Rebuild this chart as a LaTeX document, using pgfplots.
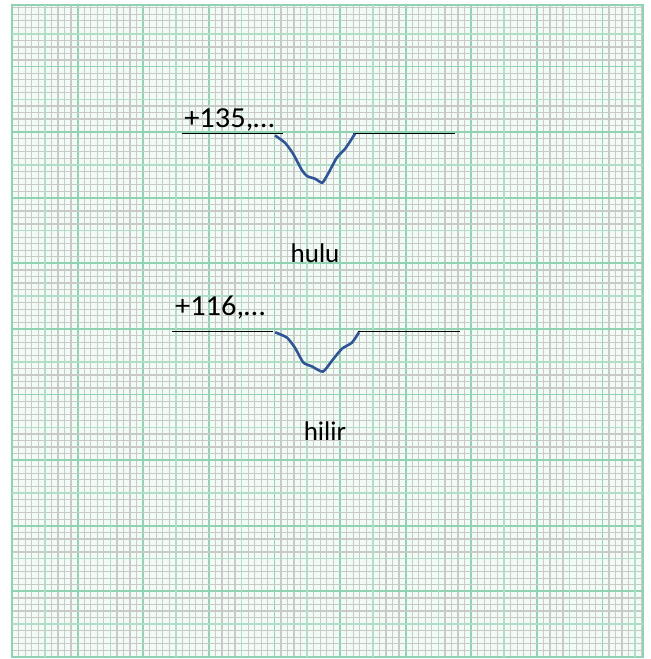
\documentclass[border=0pt]{standalone}
\usepackage{pgfplots}
\pgfplotsset{compat=1.18}
\usepackage{graphicx}
\usepackage{fontspec}
\setmainfont{Carlito}
\definecolor{minorg}{RGB}{200,202,200}
\definecolor{medg}{RGB}{178,222,200}
\definecolor{majg}{RGB}{145,210,178}
\definecolor{paper}{RGB}{243,251,247}
\definecolor{curve}{RGB}{47,85,151}
\begin{document}
\begin{tikzpicture}
\path[use as bounding box] (-6pt,-1pt) rectangle (319pt,328.5pt);
\begin{axis}[
  anchor=origin, at={(0,0)},
  x=3.28pt, y=3.28pt,
  xmin=0, xmax=96.2, ymin=0, ymax=99.4,
  axis background/.style={fill=paper},
  axis line style={majg, line width=1.2pt},
  xtick={0,10,...,90}, ytick={0,10,...,90},
  minor xtick={0,1,...,96}, minor ytick={0,1,...,99},
  extra x ticks={5,15,...,95}, extra y ticks={5,15,...,95},
  extra tick style={grid=major, major grid style={medg, line width=0.8pt}},
  xticklabels={}, yticklabels={},
  extra x tick labels={}, extra y tick labels={},
  major tick length=0pt, minor tick length=0pt,
  grid=both,
  minor grid style={minorg, line width=0.6pt},
  major grid style={majg, line width=0.9pt},
  clip=false,
]
% upstream (hulu)
\addplot[black, line width=0.8pt] coordinates {(25.9,79.8) (41.3,79.8)};
\addplot[black, line width=0.8pt] coordinates {(52.0,79.8) (67.5,79.8)};
\addplot[curve, line width=1.3pt, smooth, tension=0.35] coordinates {
  (40.1,79.5) (41.6,78.4) (42.8,76.8) (44.2,74.2) (45.0,73.3) (46.2,72.9)
  (47.3,72.3) (48.2,73.7) (49.5,76.1) (50.8,77.5) (51.8,79.0) (52.3,79.8)};
% downstream (hilir)
\addplot[black, line width=0.8pt] coordinates {(24.4,49.6) (39.8,49.6)};
\addplot[black, line width=0.8pt] coordinates {(52.7,49.6) (68.3,49.6)};
\addplot[curve, line width=1.3pt, smooth, tension=0.35] coordinates {
  (40.1,49.5) (41.9,48.7) (43.1,47.2) (44.4,44.9) (45.7,44.3) (47.4,43.5)
  (48.8,45.2) (50.3,47.0) (51.8,47.9) (52.9,49.5)};
\node[anchor=base west, inner sep=0pt, font=\fontsize{14.5}{16}\selectfont] at (axis cs:26.2,80.7) {\scalebox{1.05}[1]{+135,…}};
\node[anchor=base west, inner sep=0pt, font=\fontsize{14.5}{16}\selectfont] at (axis cs:24.8,52.1) {\scalebox{1.05}[1]{+116,…}};
\node[anchor=base, inner sep=0pt, font=\fontsize{13.5}{15}\selectfont] at (axis cs:46.2,60.1) {hulu};
\node[anchor=base, inner sep=0pt, font=\fontsize{13.5}{15}\selectfont] at (axis cs:47.7,33.0) {hilir};
\end{axis}
\end{tikzpicture}
\end{document}
